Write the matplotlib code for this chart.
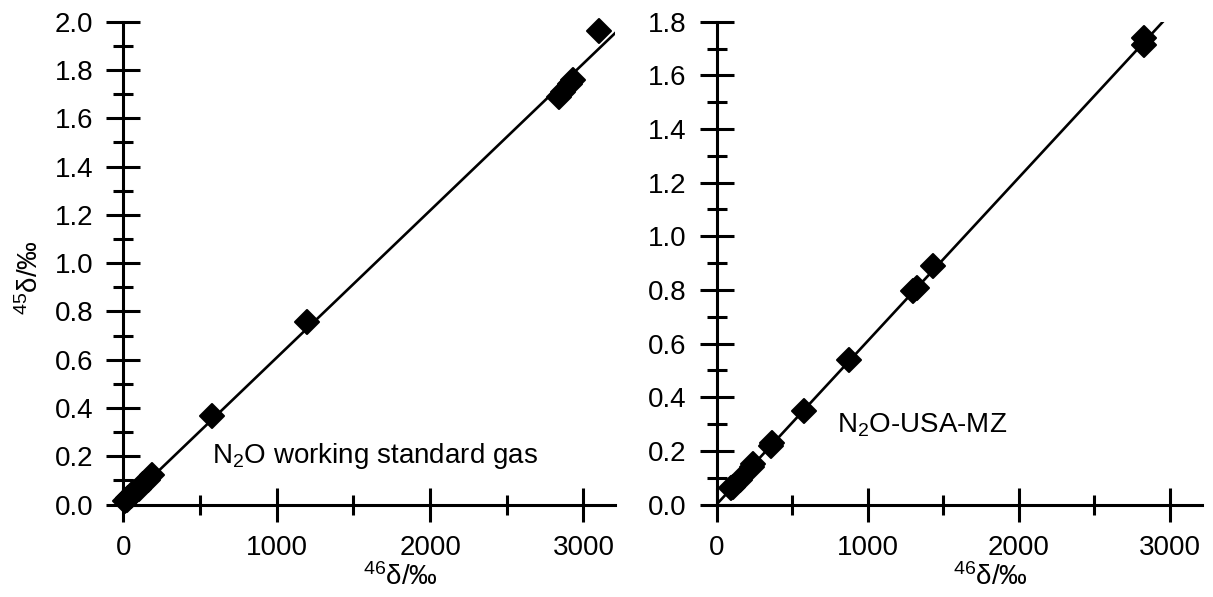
import matplotlib
matplotlib.use("Agg")
from matplotlib import pyplot as plt
from matplotlib.ticker import MultipleLocator, FormatStrFormatter
from matplotlib.markers import MarkerStyle
import numpy as np

plt.rcParams['font.family'] = ['Liberation Sans', 'DejaVu Sans']
plt.rcParams['mathtext.fontset'] = 'custom'
plt.rcParams['mathtext.rm'] = 'Liberation Sans'
plt.rcParams['mathtext.it'] = 'Liberation Sans'

# working standard gas (left)
ws_x = [10, 20, 30, 50, 70, 100, 130, 160, 184, 580, 1198, 2840, 2870, 2910, 2930, 3100]
ws_y = [0.015, 0.02, 0.025, 0.035, 0.05, 0.065, 0.085, 0.10, 0.122, 0.368, 0.755,
        1.69, 1.71, 1.74, 1.757, 1.960]
ws_slope, ws_icpt = 0.000609, 0.0

# N2O-USA-MZ (right)
mz_x = [98, 111, 155, 232, 241, 358, 370, 578, 876, 1303, 1324, 1433, 2826, 2826]
mz_y = [0.061, 0.066, 0.093, 0.141, 0.150, 0.217, 0.230, 0.348, 0.540, 0.795,
        0.809, 0.890, 1.715, 1.740]
mz_slope, mz_icpt = 0.0006095, 0.0

fig = plt.figure(figsize=(12.13, 5.97), dpi=100)
ax1 = fig.add_axes([0.1018, 0.1549, 0.4052, 0.8087])
ax2 = fig.add_axes([0.5907, 0.1549, 0.4000, 0.8087])

dmark = MarkerStyle('D', joinstyle='round')


def style(ax, xmax, ymax):
    ax.set_xlim(0, xmax)
    ax.set_ylim(0, ymax)
    for s in ['top', 'right']:
        ax.spines[s].set_visible(False)
    for s in ['left', 'bottom']:
        ax.spines[s].set_linewidth(2.2)
    ax.xaxis.set_major_locator(MultipleLocator(1000))
    ax.xaxis.set_minor_locator(MultipleLocator(500))
    ax.yaxis.set_major_locator(MultipleLocator(0.2))
    ax.yaxis.set_minor_locator(MultipleLocator(0.1))
    ax.yaxis.set_major_formatter(FormatStrFormatter('%.1f'))
    ax.tick_params(which='major', direction='inout', length=24.5, width=2.2,
                   labelsize=20, pad=9.5)
    ax.tick_params(which='minor', direction='inout', length=13.7, width=2.2)
    ax.set_xlabel(r'$^{46}$δ/‰', fontsize=20)
    ax.xaxis.set_label_coords(0.564, -0.122)


style(ax1, 3206, 2.0)
style(ax2, 3210, 1.8)

xx = np.array([0, 3300])
ax1.plot(xx, ws_slope * xx + ws_icpt, color='black', lw=1.9, zorder=2)
ax1.plot(ws_x, ws_y, linestyle='none', marker=dmark, color='black', ms=12,
         mew=1.5, clip_on=False, zorder=3)
ax2.plot(xx, mz_slope * xx + mz_icpt, color='black', lw=1.9, zorder=2)
ax2.plot(mz_x, mz_y, linestyle='none', marker=dmark, color='black', ms=12,
         mew=1.5, clip_on=False, zorder=3)

ax1.set_ylabel(r'$^{45}$δ/‰', fontsize=20, va='center')
ax1.yaxis.set_label_coords(-0.19, 0.47)

ax1.text(577, 0.20, r'N$_2$O working standard gas', fontsize=20, va='center')
ax2.text(795, 0.295, r'N$_2$O-USA-MZ', fontsize=20, va='center')

fig.savefig('out.png', dpi=100)
